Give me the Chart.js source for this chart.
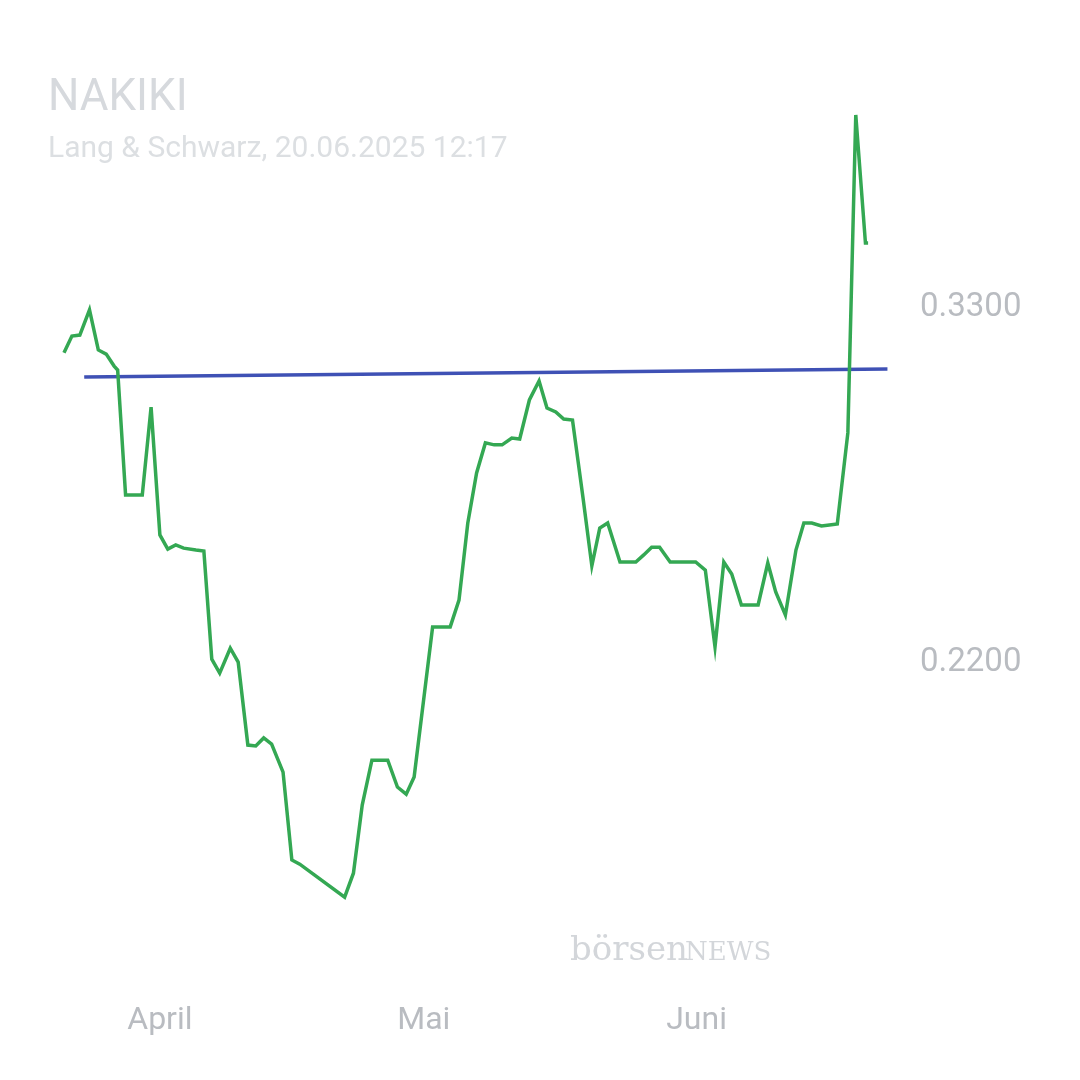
<!DOCTYPE html>
<html><head><meta charset="utf-8">
<script src="https://cdn.jsdelivr.net/npm/chart.js@4"></script>
<style>html,body{margin:0;padding:0;background:#fff}#w{width:1080px;height:1080px}</style>
</head><body><div id="w"><canvas id="c"></canvas></div>
<script>
const days=[-10.9,-10.0,-9.1,-8.0,-7.0,-6.1,-5.2,-4.8,-3.9,-3.0,-2.0,-1.0,0,0.9,1.8,2.7,4.1,5.0,5.9,6.8,8.0,8.9,10.0,10.9,11.8,12.7,14.0,15.0,15.9,21.0,22.0,23.0,24.1,25.0,25.9,27.0,28.0,28.9,31.0,31.8,33.0,34.0,35.0,36.0,37.0,38.0,38.9,40.0,40.9,42.0,43.1,44.0,45.0,45.9,46.9,48.1,49.1,50.0,50.9,52.3,53.2,54.1,55.0,55.9,56.8,58.0,58.9,59.8,60.9,62.0,63.1,64.1,65.0,66.1,67.0,68.0,69.1,70.0,71.1,72.3,73.2,74.1,75.2,76.1,77.0,78.2,79.1,80.2,80.5];
const prices=[0.3161,0.3213,0.3216,0.3294,0.3170,0.3157,0.3120,0.3108,0.2721,0.2721,0.2721,0.2993,0.2597,0.2553,0.2566,0.2556,0.2550,0.2547,0.2212,0.2169,0.2246,0.2203,0.1946,0.1943,0.1968,0.1949,0.1862,0.1590,0.1577,0.1475,0.1549,0.1760,0.1899,0.1899,0.1899,0.1816,0.1794,0.1847,0.2312,0.2312,0.2312,0.2395,0.2634,0.2789,0.2882,0.2876,0.2876,0.2897,0.2894,0.3015,0.3074,0.2990,0.2978,0.2956,0.2953,0.2711,0.2501,0.2618,0.2634,0.2513,0.2513,0.2513,0.2535,0.2559,0.2559,0.2513,0.2513,0.2513,0.2513,0.2488,0.2250,0.2513,0.2476,0.2380,0.2380,0.2380,0.2510,0.2420,0.2349,0.2550,0.2634,0.2634,0.2625,0.2628,0.2631,0.2913,0.3898,0.3501,0.3501];
const trendDays=[-8.6,82.7];
const trendVals=[0.3086,0.3111];
const monthTicks=[0,30,61];
const monthLabels=['April','Mai','Juni'];
const priceTicks=[0.22,0.33];
const title='NAKIKI', subtitle='Lang & Schwarz, 20.06.2025 12:17';

const deco={id:'deco',afterDraw(ch){const x=ch.ctx;x.save();
x.fillStyle='#d6d9dd';x.font='44px Roboto';x.textBaseline='alphabetic';x.fillText(title,48,110);
x.font='30px Roboto';x.fillStyle='#dcdfe2';x.fillText(subtitle,48,157);
x.font='34px "DejaVu Serif", serif';x.fillStyle='#d3d6da';x.fillText('börsen',570,960);
x.font='26px "DejaVu Serif", serif';x.fillText('NEWS',685,960);
x.restore();}};

new Chart(document.getElementById('c'),{type:'line',
data:{datasets:[
{data:days.map((d,i)=>({x:d,y:prices[i]})),borderColor:'#34a853',borderWidth:3.5,pointRadius:0,tension:0},
{data:trendDays.map((d,i)=>({x:d,y:trendVals[i]})),borderColor:'#3f51b5',borderWidth:3.5,pointRadius:0}
]},
options:{responsive:true,maintainAspectRatio:false,animation:false,
layout:{padding:{top:82,left:20,bottom:0,right:0}},
plugins:{legend:{display:false},tooltip:{enabled:false}},
scales:{
x:{type:'linear',min:-15.9,max:83.9,grid:{display:false},border:{display:false},
 afterBuildTicks:a=>{a.ticks=monthTicks.map(v=>({value:v}))},
 ticks:{color:'#b9bcc1',font:{size:32,family:'Roboto'},padding:40,maxRotation:0,callback:v=>monthLabels[monthTicks.indexOf(v)]}},
y:{position:'right',min:0.13,max:0.40,grid:{display:false},border:{display:false},
 afterBuildTicks:a=>{a.ticks=priceTicks.map(v=>({value:v}))},
 afterFit:a=>{a.width=182},
 ticks:{color:'#b9bcc1',font:{size:33,family:'Roboto'},padding:14,callback:v=>v.toFixed(4)}}
}},plugins:[deco]});
</script></body></html>
